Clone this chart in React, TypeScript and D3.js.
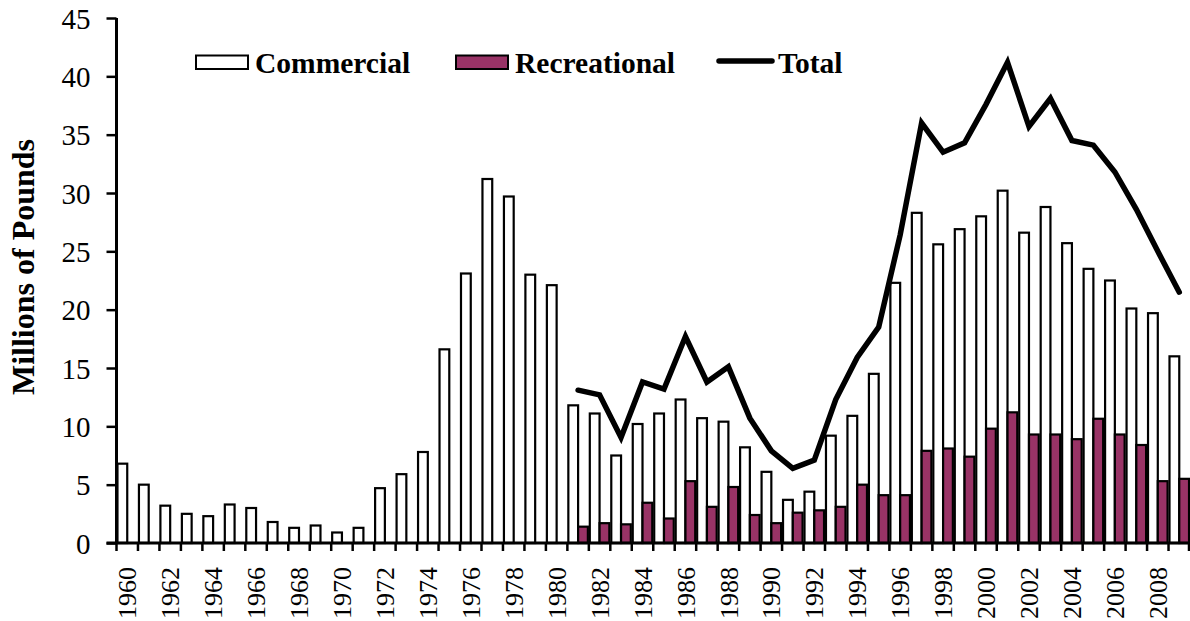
import React, { useEffect, useRef } from "react";
import * as d3 from "d3";

// years on the x axis
const years = d3.range(1960, 2010);

// commercial landings, millions of pounds, 1960-2009
const commercial = [
  6.8, 5.0, 3.2, 2.5, 2.3, 3.3, 3.0, 1.8, 1.3, 1.5,
  0.9, 1.3, 4.7, 5.9, 7.8, 16.6, 23.1, 31.2, 29.7, 23.0,
  22.1, 11.8, 11.1, 7.5, 10.2, 11.1, 12.3, 10.7, 10.4, 8.2,
  6.1, 3.7, 4.4, 9.2, 10.9, 14.5, 22.3, 28.3, 25.6, 26.9,
  28.0, 30.2, 26.6, 28.8, 25.7, 23.5, 22.5, 20.1, 19.7, 16.0,
];

// recreational landings start in 1981
const recYears = d3.range(1981, 2010);
const recreational = [
  1.4, 1.7, 1.6, 3.45, 2.1, 5.3, 3.1, 4.8, 2.4, 1.7,
  2.6, 2.8, 3.1, 5.0, 4.1, 4.1, 7.9, 8.1, 7.4, 9.8,
  11.2, 9.3, 9.3, 8.9, 10.65, 9.3, 8.4, 5.3, 5.5,
];

// total line, 1981-2009
const total = [
  13.1, 12.7, 9.05, 13.8, 13.2, 17.7, 13.8, 15.1, 10.7, 7.9,
  6.4, 7.1, 12.3, 15.9, 18.5, 26.4, 36.0, 33.5, 34.3, 37.6,
  41.2, 35.7, 38.1, 34.5, 34.1, 31.8, 28.6, 25.0, 21.5,
];

const yTicks = d3.range(0, 50, 5);
const legendItems = ["Commercial", "Recreational", "Total"];

const W = 1190;
const H = 621;

export default function App() {
  const ref = useRef<SVGSVGElement>(null);

  useEffect(() => {
    const svg = d3.select(ref.current);
    svg.selectAll("*").remove();

    const left = 116.5;
    const right = 1190;
    const top = 18;
    const bottom = 543;
    const font = "'Liberation Serif', 'Times New Roman', serif";

    const x = d3.scaleBand<number>().domain(years).range([left, right]).padding(0);
    const y = d3.scaleLinear().domain([0, 45]).range([bottom, top]);

    const step = x.bandwidth();
    const gap = step * 0.09;
    const barW = (step - gap) / 2;

    // commercial bars
    svg.append("g")
      .selectAll("rect")
      .data(years)
      .enter()
      .append("rect")
      .attr("x", (d) => x(d)! + gap / 2)
      .attr("y", (d, i) => y(commercial[i]))
      .attr("width", barW)
      .attr("height", (d, i) => bottom - y(commercial[i]))
      .attr("fill", "#ffffff")
      .attr("stroke", "#000")
      .attr("stroke-width", 2.2);

    // recreational bars
    svg.append("g")
      .selectAll("rect")
      .data(recYears)
      .enter()
      .append("rect")
      .attr("x", (d) => x(d)! + gap / 2 + barW)
      .attr("y", (d, i) => y(recreational[i]))
      .attr("width", barW)
      .attr("height", (d, i) => bottom - y(recreational[i]))
      .attr("fill", "#993366")
      .attr("stroke", "#000")
      .attr("stroke-width", 2.2);

    // total line
    const line = d3.line<number>()
      .x((d, i) => x(recYears[i])! + step / 2)
      .y((d) => y(d));

    svg.append("path")
      .datum(total)
      .attr("d", line)
      .attr("fill", "none")
      .attr("stroke", "#000")
      .attr("stroke-width", 5.5)
      .attr("stroke-linecap", "round")
      .attr("stroke-linejoin", "miter");

    // y axis
    const yAxis = svg.append("g")
      .attr("transform", `translate(${left}, 0)`)
      .call(d3.axisLeft(y).tickValues(yTicks).tickSize(10).tickPadding(16));
    yAxis.select(".domain").attr("stroke", "#000").attr("stroke-width", 3)
      .attr("d", `M0,${top}V${bottom}`);
    yAxis.selectAll(".tick line").attr("stroke", "#000").attr("stroke-width", 2.5);
    yAxis.selectAll(".tick text")
      .attr("font-family", font)
      .attr("font-size", 29)
      .attr("fill", "#000")
      .attr("dy", "0.35em");

    // x axis, ticks on category boundaries
    const xg = svg.append("g").attr("transform", `translate(0, ${bottom})`);
    xg.append("line")
      .attr("x1", left - 10).attr("x2", right)
      .attr("stroke", "#000").attr("stroke-width", 3);
    xg.selectAll("line.tk")
      .data(years)
      .enter()
      .append("line")
      .attr("class", "tk")
      .attr("x1", (d) => x(d)!).attr("x2", (d) => x(d)!)
      .attr("y1", 0).attr("y2", 8)
      .attr("stroke", "#000").attr("stroke-width", 2.5);
    xg.append("line")
      .attr("x1", right - 1).attr("x2", right - 1).attr("y1", 0).attr("y2", 8)
      .attr("stroke", "#000").attr("stroke-width", 2.5);
    xg.selectAll("text")
      .data(years.filter((d) => d % 2 === 0))
      .enter()
      .append("text")
      .attr("transform", (d) => `translate(${x(d)! + step / 2}, 24) rotate(-90)`)
      .attr("text-anchor", "end")
      .attr("dy", "0.35em")
      .attr("font-family", font)
      .attr("font-size", 26)
      .attr("fill", "#000")
      .text((d) => d);

    // y title
    svg.append("text")
      .attr("transform", `translate(34, 267) rotate(-90)`)
      .attr("text-anchor", "middle")
      .attr("font-family", font)
      .attr("font-weight", "bold")
      .attr("font-size", 32)
      .text("Millions of Pounds");

    // legend
    const lg = svg.append("g").attr("font-family", font).attr("font-weight", "bold").attr("font-size", 29.5);
    const lx = [196, 456, 719];
    lg.append("rect").attr("x", lx[0]).attr("y", 55.5).attr("width", 52).attr("height", 13.5)
      .attr("fill", "#fff").attr("stroke", "#000").attr("stroke-width", 2);
    lg.append("rect").attr("x", lx[1]).attr("y", 55.5).attr("width", 52).attr("height", 13.5)
      .attr("fill", "#993366").attr("stroke", "#000").attr("stroke-width", 2);
    lg.append("line").attr("x1", lx[2]).attr("x2", lx[2] + 53).attr("y1", 61).attr("y2", 61)
      .attr("stroke", "#000").attr("stroke-width", 5.5).attr("stroke-linecap", "round");
    lg.selectAll("text.lab")
      .data(legendItems)
      .enter()
      .append("text")
      .attr("class", "lab")
      .attr("x", (d, i) => lx[i] + 59)
      .attr("y", 73)
      .text((d) => d);
  }, []);

  return (
    <svg
      ref={ref}
      width={W}
      height={H}
      style={{ position: "absolute", left: 0, top: 0, background: "#fff" }}
    />
  );
}
